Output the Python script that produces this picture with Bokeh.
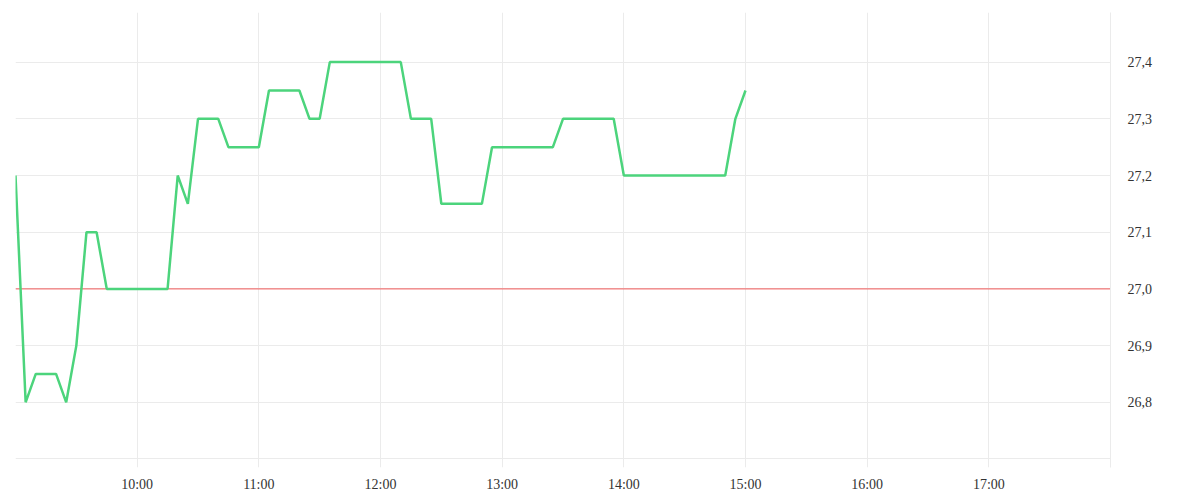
from datetime import datetime
from bokeh.plotting import figure
from bokeh.models import (Range1d, FixedTicker, Span, CustomJSTickFormatter,
                          DatetimeTickFormatter, LinearAxis)
from bokeh.embed import file_html
from bokeh.resources import INLINE

times = [
    "09:00", "09:05", "09:10", "09:15", "09:20", "09:25", "09:30", "09:35", "09:40", "09:45", "09:50", "09:55",
    "10:00", "10:05", "10:10", "10:15", "10:20", "10:25", "10:30", "10:35", "10:40", "10:45", "10:50", "10:55",
    "11:00", "11:05", "11:10", "11:15", "11:20", "11:25", "11:30", "11:35", "11:40", "11:45", "11:50", "11:55",
    "12:00", "12:05", "12:10", "12:15", "12:20", "12:25", "12:30", "12:35", "12:40", "12:45", "12:50", "12:55",
    "13:00", "13:05", "13:10", "13:15", "13:20", "13:25", "13:30", "13:35", "13:40", "13:45", "13:50", "13:55",
    "14:00", "14:05", "14:10", "14:15", "14:20", "14:25", "14:30", "14:35", "14:40", "14:45", "14:50", "14:55",
    "15:00",
]
prices = [
    27.2, 26.8, 26.85, 26.85, 26.85, 26.8, 26.9, 27.1, 27.1, 27.0, 27.0, 27.0,
    27.0, 27.0, 27.0, 27.0, 27.2, 27.15, 27.3, 27.3, 27.3, 27.25, 27.25, 27.25,
    27.25, 27.35, 27.35, 27.35, 27.35, 27.3, 27.3, 27.4, 27.4, 27.4, 27.4, 27.4,
    27.4, 27.4, 27.4, 27.3, 27.3, 27.3, 27.15, 27.15, 27.15, 27.15, 27.15, 27.25,
    27.25, 27.25, 27.25, 27.25, 27.25, 27.25, 27.3, 27.3, 27.3, 27.3, 27.3, 27.3,
    27.2, 27.2, 27.2, 27.2, 27.2, 27.2, 27.2, 27.2, 27.2, 27.2, 27.2, 27.3,
    27.35,
]
reference_price = 27.0
session_start = "09:00"
session_end = "18:00"
x_label_hours = ["10:00", "11:00", "12:00", "13:00", "14:00", "15:00", "16:00", "17:00"]
x_grid_hours = ["09:00"] + x_label_hours + ["18:00"]
y_label_ticks = [26.8, 26.9, 27.0, 27.1, 27.2, 27.3, 27.4]
y_grid_ticks = [26.7] + y_label_ticks

DAY = "2024-01-02 "
def t(s):
    return datetime.strptime(DAY + s, "%Y-%m-%d %H:%M")
def ms(s):
    return (t(s) - datetime(1970, 1, 1)).total_seconds() * 1000.0

x = [t(s) for s in times]

p = figure(width=1200, height=500, output_backend="svg", toolbar_location=None,
           x_axis_type="datetime", y_axis_location=None,
           x_range=Range1d(t(session_start), t(session_end)),
           y_range=Range1d(26.685, 27.4875),
           min_border_left=15, min_border_top=12, min_border_right=90, min_border_bottom=33)
p.outline_line_color = None
p.background_fill_color = "white"
p.border_fill_color = "white"

grid_color = "#ebebeb"
p.xgrid.ticker = FixedTicker(ticks=[ms(s) for s in x_grid_hours])
p.ygrid.ticker = FixedTicker(ticks=y_grid_ticks)
p.xgrid.grid_line_color = grid_color
p.ygrid.grid_line_color = grid_color

font = "Liberation Serif"
xa = p.xaxis[0]
xa.ticker = FixedTicker(ticks=[ms(s) for s in x_label_hours])
xa.formatter = DatetimeTickFormatter(hours="%H:%M", minutes="%H:%M", hourmin="%H:%M",
                                     days="%H:%M", minsec="%H:%M", seconds="%H:%M")
xa.axis_line_color = None
xa.major_tick_line_color = None
xa.minor_tick_line_color = None
xa.major_tick_out = 0
xa.major_tick_in = 0
xa.major_label_standoff = 9
xa.major_label_text_font = font
xa.major_label_text_font_size = "14px"
xa.major_label_text_color = "#333333"

ya = LinearAxis(ticker=FixedTicker(ticks=y_label_ticks),
                formatter=CustomJSTickFormatter(code="return tick.toFixed(1).replace('.', ',');"))
ya.axis_line_color = grid_color
ya.major_tick_line_color = None
ya.minor_tick_line_color = None
ya.major_tick_out = 0
ya.major_tick_in = 0
ya.major_label_standoff = 17
ya.major_label_text_font = font
ya.major_label_text_font_size = "14px"
ya.major_label_text_color = "#333333"
p.add_layout(ya, "right")

p.add_layout(Span(location=reference_price, dimension="width", line_color="#f25a5a",
                  line_width=1, level="underlay"))
p.line(x, prices, line_color="#4cd47c", line_width=2.5)

open("out.html", "w").write(file_html(p, INLINE))
